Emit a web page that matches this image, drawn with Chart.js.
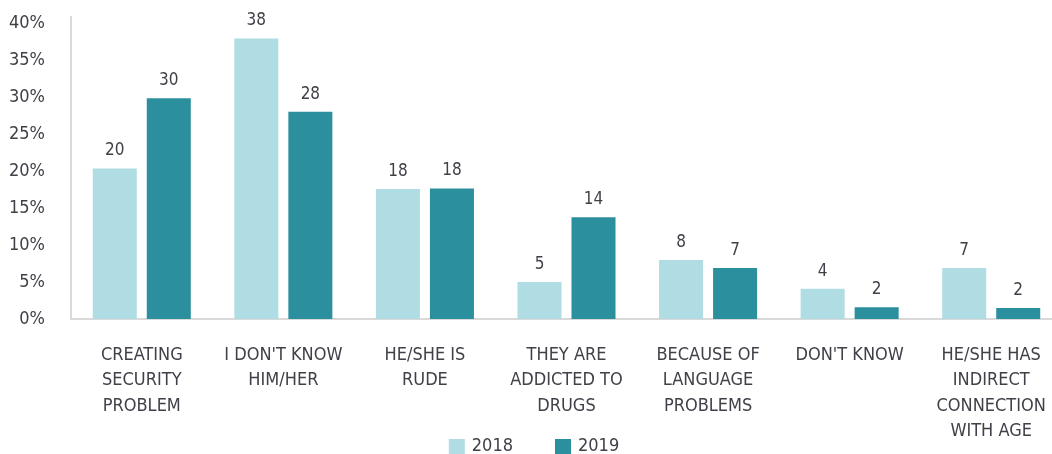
<!DOCTYPE html>
<html>
<head>
<meta charset="utf-8">
<script src="https://cdn.jsdelivr.net/npm/chart.js@4"></script>
<style>
  html, body { margin: 0; padding: 0; background: #fff; overflow: hidden; }
  #wrap { width: 1052px; height: 454px; overflow: hidden; }
  #barChart { display: block; margin-top: -12px; }
</style>
</head>
<body>
<div id="wrap"><canvas id="barChart" width="1062" height="466"></canvas></div>
<script>
const categories = [
  ['CREATING', 'SECURITY', 'PROBLEM'],
  ["I DON'T KNOW", 'HIM/HER'],
  ['HE/SHE IS', 'RUDE'],
  ['THEY ARE', 'ADDICTED TO', 'DRUGS'],
  ['BECAUSE OF', 'LANGUAGE', 'PROBLEMS'],
  ["DON'T KNOW"],
  ['HE/SHE HAS', 'INDIRECT', 'CONNECTION', 'WITH AGE']
];
const values2018 = [20.4, 38.0, 17.6, 5.0, 8.0, 4.1, 6.9];
const values2019 = [29.9, 28.1, 17.7, 13.8, 6.9, 1.6, 1.5];
const yTicks = [0, 5, 10, 15, 20, 25, 30, 35, 40];

const fontFamily = "'Liberation Sans Narrow', 'DejaVu Sans Condensed', sans-serif";
const textColor = '#404048';

// rótulos de valor acima das barras
const valueLabels = {
  id: 'valueLabels',
  afterDatasetsDraw(chart) {
    const ctx = chart.ctx;
    ctx.save();
    ctx.font = '17px ' + fontFamily;
    ctx.fillStyle = textColor;
    ctx.textAlign = 'center';
    ctx.textBaseline = 'bottom';
    chart.data.datasets.forEach((ds, i) => {
      chart.getDatasetMeta(i).data.forEach((bar, j) => {
        ctx.fillText(Math.round(ds.data[j]), bar.x, bar.y - 9);
      });
    });
    ctx.restore();
  }
};

// legenda desenhada por cima da área dos rótulos do eixo x
const bottomLegend = {
  id: 'bottomLegend',
  afterDraw(chart) {
    const ctx = chart.ctx;
    const box = 16, gap = 7, spacing = 42, y = 458;
    ctx.save();
    ctx.font = '18px ' + fontFamily;
    ctx.textBaseline = 'middle';
    const items = chart.data.datasets.map(ds => ({
      text: ds.label, color: ds.backgroundColor, w: box + gap + ctx.measureText(ds.label).width
    }));
    const total = items.reduce((s, it) => s + it.w, 0) + spacing * (items.length - 1);
    let x = 534 - total / 2;
    items.forEach(it => {
      ctx.fillStyle = it.color;
      ctx.fillRect(x, y - 7, box, 15);
      ctx.fillStyle = textColor;
      ctx.fillText(it.text, x + box + gap, y);
      x += it.w + spacing;
    });
    ctx.restore();
  }
};

const ctx = document.getElementById('barChart').getContext('2d');
new Chart(ctx, {
  type: 'bar',
  data: {
    labels: categories,
    datasets: [
      { label: '2018', data: values2018, backgroundColor: '#afdde3' },
      { label: '2019', data: values2019, backgroundColor: '#2b8f9e' }
    ]
  },
  options: {
    responsive: false,
    animation: false,
    layout: { padding: { top: 0, right: 0, left: 0, bottom: 0 } },
    datasets: { bar: { categoryPercentage: 0.763, barPercentage: 0.815 } },
    scales: {
      x: {
        grid: { display: false },
        border: { color: '#d9d9d9', width: 2 },
        afterFit: axis => { axis.height = 135; },
        ticks: {
          color: textColor,
          font: { family: fontFamily, size: 18, lineHeight: 1.4 },
          maxRotation: 0,
          autoSkip: false,
          padding: 16
        }
      },
      y: {
        min: 0,
        max: 40.95,
        afterBuildTicks: axis => { axis.ticks = yTicks.map(v => ({ value: v })); },
        afterFit: axis => { axis.width = 71; },
        grid: { display: false },
        border: { color: '#d9d9d9', width: 2 },
        ticks: {
          color: textColor,
          font: { family: fontFamily, size: 18 },
          padding: 18,
          callback: v => v + '%'
        }
      }
    },
    plugins: {
      legend: { display: false },
      tooltip: { enabled: false }
    }
  },
  plugins: [valueLabels, bottomLegend]
});
</script>
</body>
</html>
